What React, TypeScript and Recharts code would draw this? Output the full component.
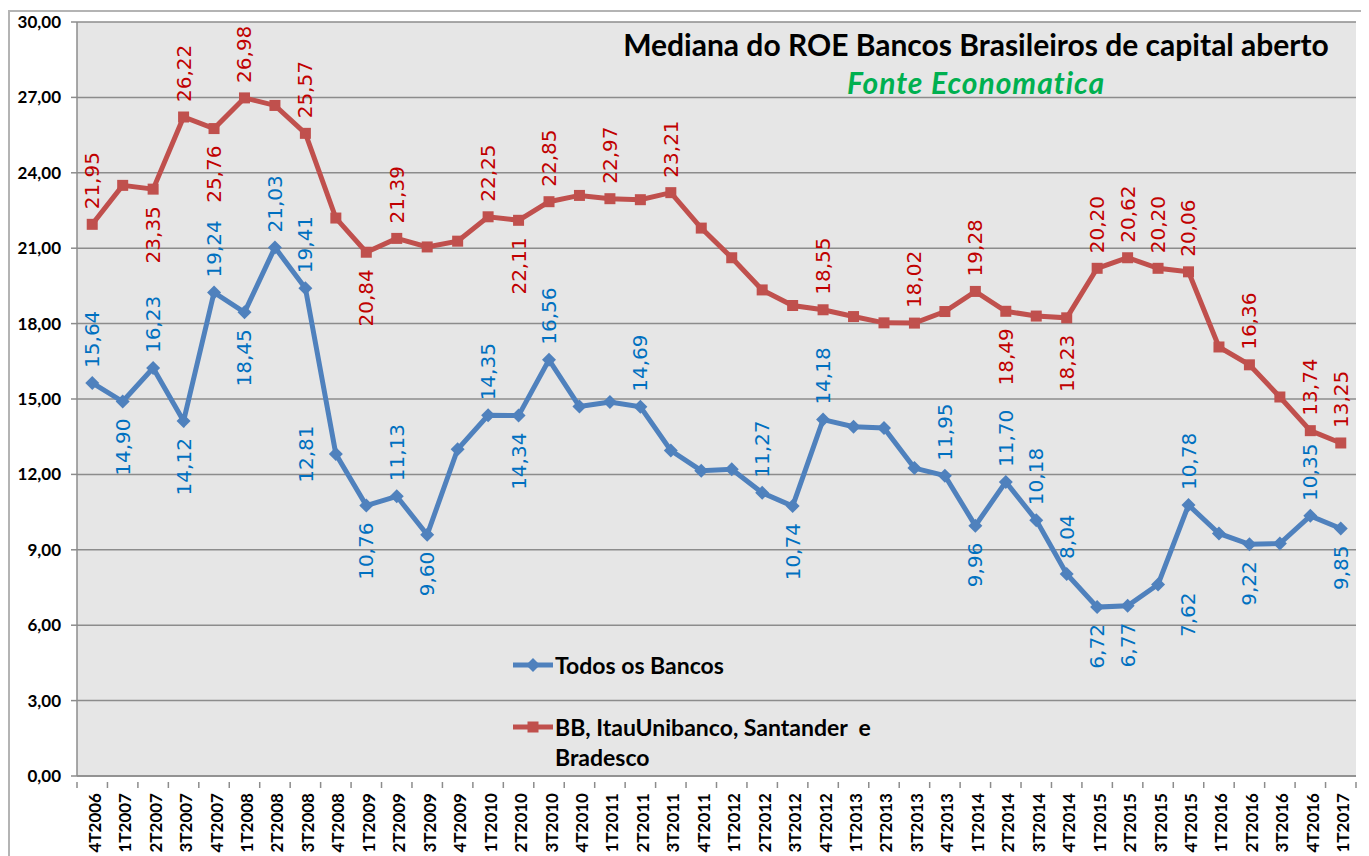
import React from "react";
import {
  LineChart,
  Line,
  XAxis,
  YAxis,
  CartesianGrid,
  LabelList,
} from "recharts";

const categories = [
  "4T2006", "1T2007", "2T2007", "3T2007", "4T2007", "1T2008", "2T2008", "3T2008",
  "4T2008", "1T2009", "2T2009", "3T2009", "4T2009", "1T2010", "2T2010", "3T2010",
  "4T2010", "1T2011", "2T2011", "3T2011", "4T2011", "1T2012", "2T2012", "3T2012",
  "4T2012", "1T2013", "2T2013", "3T2013", "4T2013", "1T2014", "2T2014", "3T2014",
  "4T2014", "1T2015", "2T2015", "3T2015", "4T2015", "1T2016", "2T2016", "3T2016",
  "4T2016", "1T2017",
];

// Todos os Bancos
const todosBancos = [
  15.64, 14.9, 16.23, 14.12, 19.24, 18.45, 21.03, 19.41,
  12.81, 10.76, 11.13, 9.6, 13.0, 14.35, 14.34, 16.56,
  14.7, 14.88, 14.69, 12.95, 12.15, 12.2, 11.27, 10.74,
  14.18, 13.9, 13.85, 12.25, 11.95, 9.96, 11.7, 10.18,
  8.04, 6.72, 6.77, 7.62, 10.78, 9.65, 9.22, 9.25,
  10.35, 9.85,
];

// BB, ItauUnibanco, Santander e Bradesco
const grandesBancos = [
  21.95, 23.5, 23.35, 26.22, 25.76, 26.98, 26.68, 25.57,
  22.2, 20.84, 21.39, 21.05, 21.28, 22.25, 22.11, 22.85,
  23.1, 22.97, 22.93, 23.21, 21.8, 20.62, 19.34, 18.72,
  18.55, 18.28, 18.03, 18.02, 18.48, 19.28, 18.49, 18.3,
  18.23, 20.2, 20.62, 20.2, 20.06, 17.07, 16.36, 15.08,
  13.74, 13.25,
];

// where each data label sits: a = above, b = below, L = left, R = below right, "" = none
const todosLabelPos = [
  "a", "b", "a", "b", "a", "b", "a", "a",
  "L", "b", "a", "b", "", "a", "b", "a",
  "", "", "a", "", "", "", "a", "b",
  "a", "", "", "", "a", "b", "a", "a",
  "a", "b", "b", "R", "a", "", "b", "",
  "a", "b",
];

const grandesLabelPos = [
  "a", "", "b", "a", "b", "a", "", "a",
  "", "b", "a", "", "", "a", "b", "a",
  "", "a", "", "a", "", "", "", "",
  "a", "", "", "a", "", "a", "b", "",
  "b", "a", "a", "a", "a", "", "a", "",
  "a", "a",
];

const yTicks = [0, 3, 6, 9, 12, 15, 18, 21, 24, 27, 30];

const data = categories.map((c, i) => ({
  quarter: c,
  todos: todosBancos[i],
  grandes: grandesBancos[i],
}));

const BLUE = "#4f81bd";
const RED = "#c0504d";
const BLUE_TXT = "#0070c0";
const RED_TXT = "#c00000";
const GRID = "#8c8c8c";

const fmt = (v: number) => v.toFixed(2).replace(".", ",");

const PLOT_W = 1279;
const BAND = PLOT_W / categories.length;

function makeLabel(positions: string[], color: string) {
  return (props: any) => {
    const { x, y, value, index } = props;
    const pos = positions[index];
    if (!pos) return null;
    let tx = x;
    let ty = y;
    let anchor: "start" | "end" | "middle" = "start";
    if (pos === "a") {
      ty = y - 15;
      anchor = "start";
    } else if (pos === "b") {
      ty = y + 17;
      anchor = "end";
    } else if (pos === "L") {
      tx = x - 30;
      anchor = "middle";
    } else if (pos === "R") {
      tx = x + 30;
      ty = y + 8;
      anchor = "end";
    }
    return (
      <text
        key={`lbl-${index}`}
        x={tx}
        y={ty}
        transform={`rotate(-90, ${tx}, ${ty})`}
        textAnchor={anchor}
        dominantBaseline="central"
        fill={color}
        fontSize={20}
        fontFamily="'DejaVu Sans', sans-serif"
      >
        {fmt(value)}
      </text>
    );
  };
}

const Diamond = (props: any) => {
  const { cx, cy, index } = props;
  const s = 7;
  return (
    <path
      key={`dm-${index}`}
      d={`M${cx},${cy - s} L${cx + s},${cy} L${cx},${cy + s} L${cx - s},${cy} Z`}
      fill={BLUE}
    />
  );
};

const Square = (props: any) => {
  const { cx, cy, index } = props;
  const s = 5.5;
  return (
    <rect key={`sq-${index}`} x={cx - s} y={cy - s} width={s * 2} height={s * 2} fill={RED} />
  );
};

const QuarterTick = (props: any) => {
  const { x, y, payload, index } = props;
  const left = x - BAND / 2;
  return (
    <g>
      <line x1={left} y1={y} x2={left} y2={y + 6} stroke={GRID} strokeWidth={1.5} />
      {index === categories.length - 1 && (
        <line x1={x + BAND / 2} y1={y} x2={x + BAND / 2} y2={y + 6} stroke={GRID} strokeWidth={1.5} />
      )}
      <text
        x={x + 2}
        y={y + 11}
        transform={`rotate(-90, ${x + 2}, ${y + 11})`}
        textAnchor="end"
        dominantBaseline="central"
        fontSize={17}
        fontWeight="bold"
        fontFamily="Lato, sans-serif"
        fill="#000"
      >
        {payload.value}
      </text>
    </g>
  );
};

const LegendBox = () => {
  const item = (color: string, square: boolean, label: string) => (
    <div style={{ display: "flex", alignItems: "flex-start" }}>
      <svg width={42} height={26} style={{ flex: "none" }}>
        <line x1={0} y1={13} x2={40} y2={13} stroke={color} strokeWidth={5} />
        {square ? (
          <rect x={14.5} y={7.5} width={11} height={11} fill={color} />
        ) : (
          <path d="M20,6 L27,13 L20,20 L13,13 Z" fill={color} />
        )}
      </svg>
      <span style={{ whiteSpace: "pre", lineHeight: "30px", marginTop: -2 }}>{label}</span>
    </div>
  );
  return (
    <div
      style={{
        position: "absolute",
        left: 505,
        top: 644,
        width: 460,
        fontFamily: "Lato, sans-serif",
        fontWeight: "bold",
        fontSize: 23,
        color: "#000",
      }}
    >
      {item(BLUE, false, "Todos os Bancos")}
      <div style={{ height: 34 }} />
      {item(RED, true, "BB, ItauUnibanco, Santander  e\nBradesco")}
    </div>
  );
};

export default function App() {
  return (
    <div style={{ position: "relative", width: 1361, height: 848 }}>
      <div
        style={{
          position: "absolute",
          left: 0,
          top: 2,
          width: 1361,
          height: 846,
          borderTop: "2px solid #b4b4b4",
          borderLeft: "2px solid #b4b4b4",
          boxSizing: "border-box",
        }}
      />
      <LineChart
        width={1361}
        height={848}
        data={data}
        margin={{ top: 14, right: 13, left: 9, bottom: 10 }}
      >
        <CartesianGrid vertical={false} stroke={GRID} strokeWidth={1.5} fill="#e6e6e6" fillOpacity={1} />
        <XAxis
          dataKey="quarter"
          interval={0}
          height={70}
          padding={{ left: BAND / 2, right: BAND / 2 }}
          tickLine={false}
          tickMargin={0}
          axisLine={{ stroke: GRID, strokeWidth: 1.5 }}
          tick={<QuarterTick />}
        />
        <YAxis
          width={60}
          domain={[0, 30]}
          ticks={yTicks}
          tickFormatter={fmt}
          tickSize={6}
          tickMargin={10}
          axisLine={{ stroke: GRID, strokeWidth: 1.5 }}
          tickLine={{ stroke: GRID, strokeWidth: 1.5 }}
          tick={{ fontFamily: "Lato, sans-serif", fontWeight: "bold", fontSize: 17, fill: "#000" }}
        />
        <Line
          dataKey="todos"
          name="Todos os Bancos"
          stroke={BLUE}
          strokeWidth={5}
          dot={Diamond}
          activeDot={false}
          isAnimationActive={false}
        >
          <LabelList dataKey="todos" content={makeLabel(todosLabelPos, BLUE_TXT)} />
        </Line>
        <Line
          dataKey="grandes"
          name="BB, ItauUnibanco, Santander e Bradesco"
          stroke={RED}
          strokeWidth={5}
          dot={Square}
          activeDot={false}
          isAnimationActive={false}
        >
          <LabelList dataKey="grandes" content={makeLabel(grandesLabelPos, RED_TXT)} />
        </Line>
      </LineChart>
      <LegendBox />
      <div
        style={{
          position: "absolute",
          left: 518,
          top: 18,
          width: 900,
          textAlign: "center",
          fontFamily: "Lato, sans-serif",
          fontWeight: "bold",
          fontSize: 30,
          lineHeight: "36px",
          color: "#000",
        }}
      >
        Mediana do ROE Bancos Brasileiros de capital aberto
      </div>
      <div
        style={{
          position: "absolute",
          left: 518,
          top: 56,
          width: 900,
          textAlign: "center",
          fontFamily: "Lato, sans-serif",
          fontWeight: "bold",
          fontStyle: "italic",
          fontSize: 30,
          letterSpacing: 1,
          lineHeight: "36px",
          color: "#00b050",
        }}
      >
        Fonte Economatica
      </div>
    </div>
  );
}
